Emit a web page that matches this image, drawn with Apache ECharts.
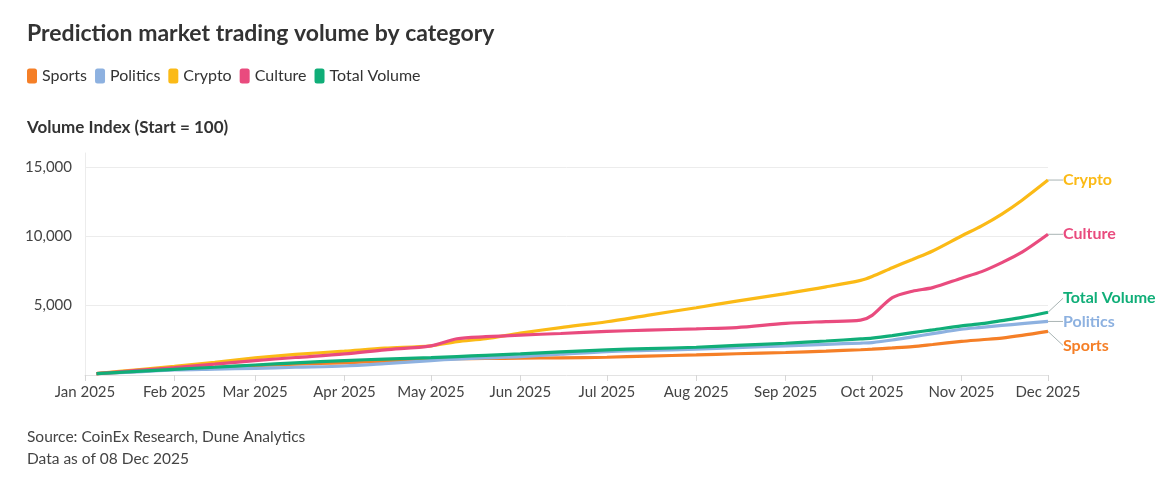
<!DOCTYPE html>
<html>
<head>
<meta charset="utf-8">
<script src="https://cdn.jsdelivr.net/npm/echarts@6/dist/echarts.min.js"></script>
<style>
html,body{margin:0;padding:0;background:#fff;}
#chart{width:1172px;height:486px;}
</style>
</head>
<body>
<div id="chart"></div>
<script>
var dates = ['2025-01-05','2025-01-19','2025-02-01','2025-02-15','2025-03-01','2025-03-15','2025-04-01','2025-04-15','2025-05-01','2025-05-10','2025-05-20','2025-06-01','2025-06-15','2025-07-01','2025-07-15','2025-08-01','2025-08-15','2025-09-01','2025-09-15','2025-09-27','2025-10-01','2025-10-08','2025-10-15','2025-10-22','2025-11-01','2025-11-08','2025-11-15','2025-11-22','2025-12-01'];

var sportsVals   = [100,260,420,550,680,780,880,1000,1130,1170,1190,1210,1240,1280,1360,1450,1530,1620,1720,1820,1860,1950,2050,2200,2420,2540,2660,2850,3140];
var politicsVals = [100,230,360,420,480,560,650,820,1040,1150,1240,1330,1500,1690,1770,1860,1970,2100,2210,2300,2340,2520,2750,2980,3300,3430,3570,3700,3860];
var cryptoVals   = [100,380,620,920,1230,1480,1720,1930,2100,2400,2620,3020,3420,3840,4300,4850,5330,5870,6350,6820,7100,7730,8330,8940,10020,10750,11600,12600,14050];
var cultureVals  = [100,330,530,780,1040,1260,1520,1810,2100,2610,2760,2880,2990,3140,3230,3330,3420,3720,3850,3950,4300,5580,6040,6300,6980,7450,8100,8850,10140];
var totalVals    = [100,260,410,560,720,880,1040,1150,1250,1330,1420,1520,1660,1810,1900,2000,2130,2290,2450,2600,2660,2840,3050,3250,3540,3700,3920,4150,4520];

var seriesNames = ['Sports','Politics','Crypto','Culture','Total Volume'];
var seriesValues = [sportsVals, politicsVals, cryptoVals, cultureVals, totalVals];
var colors = ['#F57F27','#8DB1E0','#FBBA16','#E94B7E','#10AE78'];
var labelShift = [14, 0, 0, 0, -14];

var yTicks = [0, 5000, 10000, 15000];
var monthNames = ['Jan','Feb','Mar','Apr','May','Jun','Jul','Aug','Sep','Oct','Nov','Dec'];

var FONT = 'Lato, "Source Sans Pro", "Noto Sans", sans-serif';

var chart = echarts.init(document.getElementById('chart'), null, {renderer:'canvas'});

var series = seriesNames.map(function(name, si){
  var vals = seriesValues[si];
  var data = vals.map(function(v, i){
    var item = {value:[dates[i], v]};
    if (i === vals.length - 1) {
      item.label = {show:true};
    }
    return item;
  });
  return {
    name: name,
    type: 'line',
    data: data,
    smooth: 0.3,
    clip: false,
    showSymbol: true,
    symbol: 'circle',
    symbolSize: 0,
    lineStyle: {width: 3.2, color: colors[si]},
    itemStyle: {color: colors[si]},
    emphasis: {disabled: true},
    label: {
      show: false,
      position: 'right',
      distance: 15,
      formatter: name,
      color: colors[si],
      fontFamily: FONT,
      fontWeight: 'bold',
      fontSize: 16
    },
    labelLine: {
      show: true,
      lineStyle: {color: '#a9b4b4', width: 1}
    },
    labelLayout: {dy: labelShift[si]}
  };
});

var option = {
  backgroundColor: '#fff',
  animation: false,
  color: colors,
  textStyle: {fontFamily: FONT},
  title: [
    {text: 'Prediction market trading volume by category', left: 27, top: 22, padding: 0,
     textStyle: {fontFamily: FONT, fontSize: 23, fontWeight: 'bold', color: '#333'}},
    {text: 'Volume Index (Start = 100)', left: 27, top: 119, padding: 0,
     textStyle: {fontFamily: FONT, fontSize: 17, fontWeight: 'bold', color: '#333'}},
    {text: 'Source: CoinEx Research, Dune Analytics\nData as of 08 Dec 2025', left: 27, top: 426, padding: 0,
     textStyle: {fontFamily: FONT, fontSize: 15.5, fontWeight: 'normal', color: '#444', lineHeight: 22}}
  ],
  legend: {
    left: 27, top: 68, padding: 0,
    itemWidth: 10, itemHeight: 15, itemGap: 8,
    icon: 'roundRect',
    data: seriesNames,
    textStyle: {fontFamily: FONT, fontSize: 16, color: '#333'}
  },
  grid: {left: 85, right: 124, top: 153, bottom: 111, containLabel: false},
  xAxis: {
    type: 'time',
    min: '2025-01-01',
    max: '2025-12-01',
    splitNumber: 11,
    minInterval: 28*86400000,
    maxInterval: 31*86400000,
    axisLine: {show: true, lineStyle: {color: '#e3e3e3'}},
    axisTick: {show: true, length: 6, lineStyle: {color: '#d6d6d6'}},
    splitLine: {show: false},
    axisLabel: {
      fontFamily: FONT, fontSize: 15, color: '#444', margin: 10,
      showMinLabel: true, showMaxLabel: true, hideOverlap: false,
      formatter: function(val){
        var d = new Date(val);
        return monthNames[d.getMonth()] + ' ' + d.getFullYear();
      }
    }
  },
  yAxis: {
    type: 'value',
    min: yTicks[0],
    max: 16000,
    interval: yTicks[1] - yTicks[0],
    axisLine: {show: true, lineStyle: {color: '#ececec'}},
    axisTick: {show: false},
    splitLine: {show: true, lineStyle: {color: ['rgba(0,0,0,0)','#ececec','#ececec','#ececec','rgba(0,0,0,0)']}},
    axisLabel: {
      fontFamily: FONT, fontSize: 15, color: '#444', margin: 13,
      showMaxLabel: false,
      formatter: function(v){ return v === 0 ? '' : v.toLocaleString('en-US'); }
    }
  },
  series: series
};

chart.setOption(option);
</script>
</body>
</html>
